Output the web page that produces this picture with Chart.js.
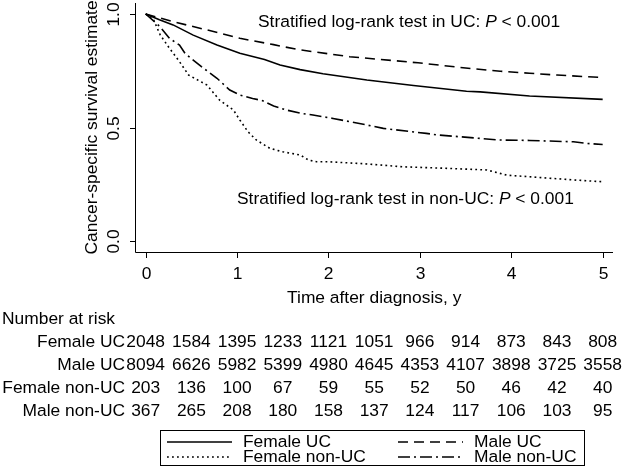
<!DOCTYPE html>
<html>
<head>
<meta charset="utf-8">
<script src="https://cdn.jsdelivr.net/npm/chart.js@4"></script>
<style>
  html, body { margin: 0; padding: 0; background: #fff; }
  #km { display: block; }
</style>
</head>
<body>
<canvas id="km" width="622" height="467"></canvas>
<script>
// Kaplan-Meier curves (time in years, survival estimate)
const femaleUcTime = [0, 0.15, 0.3, 0.52, 0.78, 1.03, 1.3, 1.47, 1.69, 1.94, 2.42, 2.93, 3.51, 3.66, 4.2, 5.0];
const femaleUcSurv = [1, 0.975, 0.952, 0.907, 0.863, 0.827, 0.8, 0.775, 0.755, 0.737, 0.709, 0.685, 0.66, 0.657, 0.639, 0.624];

const maleUcTime = [0, 0.3, 0.67, 1.03, 1.4, 1.67, 2.23, 2.98, 3.5, 3.88, 4.2, 4.5, 5.0];
const maleUcSurv = [1, 0.966, 0.93, 0.893, 0.865, 0.843, 0.812, 0.785, 0.762, 0.748, 0.739, 0.731, 0.72];

const femaleNonUcTime = [0, 0.08, 0.16, 0.26, 0.37, 0.47, 0.67, 0.81, 0.96, 1.03, 1.12, 1.21, 1.36, 1.5, 1.69, 1.78, 1.87, 2.0, 2.4, 2.81, 3.3, 3.73, 3.95, 4.2, 4.68, 5.0];
const femaleNonUcSurv = [1, 0.98, 0.907, 0.849, 0.79, 0.731, 0.687, 0.62, 0.577, 0.533, 0.481, 0.445, 0.408, 0.393, 0.379, 0.357, 0.349, 0.349, 0.34, 0.327, 0.32, 0.313, 0.29, 0.283, 0.269, 0.261];

const maleNonUcTime = [0, 0.157, 0.26, 0.37, 0.43, 0.52, 0.61, 0.78, 0.92, 1.03, 1.17, 1.28, 1.4, 1.54, 1.69, 1.83, 2.05, 2.42, 2.6, 3.07, 3.2, 3.66, 3.87, 4.2, 4.68, 4.82, 5.0];
const maleNonUcSurv = [1, 0.944, 0.893, 0.863, 0.827, 0.797, 0.768, 0.717, 0.665, 0.643, 0.628, 0.618, 0.595, 0.577, 0.563, 0.555, 0.54, 0.511, 0.496, 0.474, 0.467, 0.452, 0.445, 0.443, 0.437, 0.43, 0.425];

// axis ticks
const xTicks = [0, 1, 2, 3, 4, 5];
const yTicks = [0, 0.5, 1];
const yTickLabels = ['0.0', '0.5', '1.0'];

// number at risk table
const riskTimes = [0, 0.5, 1, 1.5, 2, 2.5, 3, 3.5, 4, 4.5, 5];
const riskGroups = ['Female UC', 'Male UC', 'Female non-UC', 'Male non-UC'];
const riskFemaleUc = [2048, 1584, 1395, 1233, 1121, 1051, 966, 914, 873, 843, 808];
const riskMaleUc = [8094, 6626, 5982, 5399, 4980, 4645, 4353, 4107, 3898, 3725, 3558];
const riskFemaleNonUc = [203, 136, 100, 67, 59, 55, 52, 50, 46, 42, 40];
const riskMaleNonUc = [367, 265, 208, 180, 158, 137, 124, 117, 106, 103, 95];

const FONT = '17.4px "Liberation Sans", Arial, Helvetica, sans-serif';
const FONT_IT = 'italic 17.4px "Liberation Sans", Arial, Helvetica, sans-serif';

const styles = {
  solid: [],
  dashed: [10, 6],
  dotted: [1.8, 3.2],
  dashDot: [12, 4, 2, 4]
};

function toPoints(t, s) {
  return t.map((v, i) => ({ x: v, y: s[i] }));
}

function makeSet(label, t, s, dash) {
  return {
    label: label,
    data: toPoints(t, s),
    borderColor: '#000',
    borderWidth: 1.6,
    borderDash: dash,
    pointRadius: 0,
    tension: 0,
    fill: false
  };
}

// draws axes, annotations, the risk table and the boxed legend
const statsPlugin = {
  id: 'statsPlugin',
  afterDraw(chart) {
    const ctx = chart.ctx;
    const xs = chart.scales.x;
    const ys = chart.scales.y;
    const area = chart.chartArea;

    ctx.save();
    ctx.strokeStyle = '#000';
    ctx.fillStyle = '#000';
    ctx.lineWidth = 1;
    ctx.setLineDash([]);

    // axis lines
    ctx.beginPath();
    ctx.moveTo(area.left + 0.5, area.top);
    ctx.lineTo(area.left + 0.5, area.bottom + 0.5);
    ctx.lineTo(area.right, area.bottom + 0.5);
    ctx.stroke();

    ctx.font = FONT;

    // y ticks, rotated labels
    yTicks.forEach((v, i) => {
      const py = Math.round(ys.getPixelForValue(v)) + 0.5;
      ctx.beginPath();
      ctx.moveTo(area.left - 5, py);
      ctx.lineTo(area.left, py);
      ctx.stroke();
      ctx.save();
      ctx.translate(114, py);
      ctx.rotate(-Math.PI / 2);
      ctx.textAlign = 'center';
      ctx.textBaseline = 'middle';
      ctx.fillText(yTickLabels[i], 0, 0);
      ctx.restore();
    });

    // x ticks
    ctx.textAlign = 'center';
    ctx.textBaseline = 'middle';
    xTicks.forEach(v => {
      const px = Math.round(xs.getPixelForValue(v)) + 0.5;
      ctx.beginPath();
      ctx.moveTo(px, area.bottom);
      ctx.lineTo(px, area.bottom + 6);
      ctx.stroke();
      ctx.fillText(String(v), px, 274);
    });

    // axis titles
    const x0 = xs.getPixelForValue(0);
    const x5 = xs.getPixelForValue(5);
    ctx.fillText('Time after diagnosis, y', (x0 + x5) / 2, 298);
    ctx.save();
    ctx.translate(92, (ys.getPixelForValue(0) + ys.getPixelForValue(1)) / 2);
    ctx.rotate(-Math.PI / 2);
    ctx.fillText('Cancer-specific survival estimate', 0, 0);
    ctx.restore();

    // log-rank annotations with italic P
    function pText(prefix, x, y) {
      ctx.textAlign = 'left';
      ctx.font = FONT;
      ctx.fillText(prefix, x, y);
      let cx = x + ctx.measureText(prefix).width;
      ctx.font = FONT_IT;
      ctx.fillText('P', cx, y);
      cx += ctx.measureText('P').width;
      ctx.font = FONT;
      ctx.fillText(' < 0.001', cx, y);
    }
    pText('Stratified log-rank test in UC: ', 258, 22);
    pText('Stratified log-rank test in non-UC: ', 237, 199);

    // number at risk
    ctx.font = FONT;
    ctx.textAlign = 'left';
    ctx.fillText('Number at risk', 2, 319);
    const riskRows = [riskFemaleUc, riskMaleUc, riskFemaleNonUc, riskMaleNonUc];
    riskRows.forEach((row, r) => {
      const y = 342 + r * 23;
      ctx.textAlign = 'right';
      ctx.fillText(riskGroups[r], 125, y);
      ctx.textAlign = 'center';
      row.forEach((n, j) => {
        ctx.fillText(String(n), xs.getPixelForValue(riskTimes[j]), y);
      });
    });

    // legend box
    ctx.strokeRect(160.5, 430.5, 424, 35);
    const legendItems = [
      { label: 'Female UC', dash: styles.solid, x: 167, y: 442 },
      { label: 'Male UC', dash: styles.dashed, x: 398, y: 442 },
      { label: 'Female non-UC', dash: styles.dotted, x: 167, y: 457 },
      { label: 'Male non-UC', dash: styles.dashDot, x: 398, y: 457 }
    ];
    legendItems.forEach(it => {
      ctx.lineWidth = 1.6;
      ctx.setLineDash(it.dash);
      ctx.beginPath();
      ctx.moveTo(it.x, it.y);
      ctx.lineTo(it.x + 65, it.y);
      ctx.stroke();
      ctx.setLineDash([]);
      ctx.textAlign = 'left';
      ctx.fillText(it.label, it.x + 76, it.y);
    });

    ctx.restore();
  }
};

new Chart(document.getElementById('km'), {
  type: 'line',
  data: {
    datasets: [
      makeSet('Female UC', femaleUcTime, femaleUcSurv, styles.solid),
      makeSet('Male UC', maleUcTime, maleUcSurv, styles.dashed),
      makeSet('Female non-UC', femaleNonUcTime, femaleNonUcSurv, styles.dotted),
      makeSet('Male non-UC', maleNonUcTime, maleNonUcSurv, styles.dashDot)
    ]
  },
  options: {
    responsive: false,
    animation: false,
    layout: { padding: { left: 135, right: 9, top: 3, bottom: 215 } },
    scales: {
      x: { type: 'linear', min: -0.117, max: 5.113, display: false },
      y: { type: 'linear', min: -0.0485, max: 1.0485, display: false }
    },
    plugins: {
      legend: { display: false },
      tooltip: { enabled: false }
    }
  },
  plugins: [statsPlugin]
});
</script>
</body>
</html>
